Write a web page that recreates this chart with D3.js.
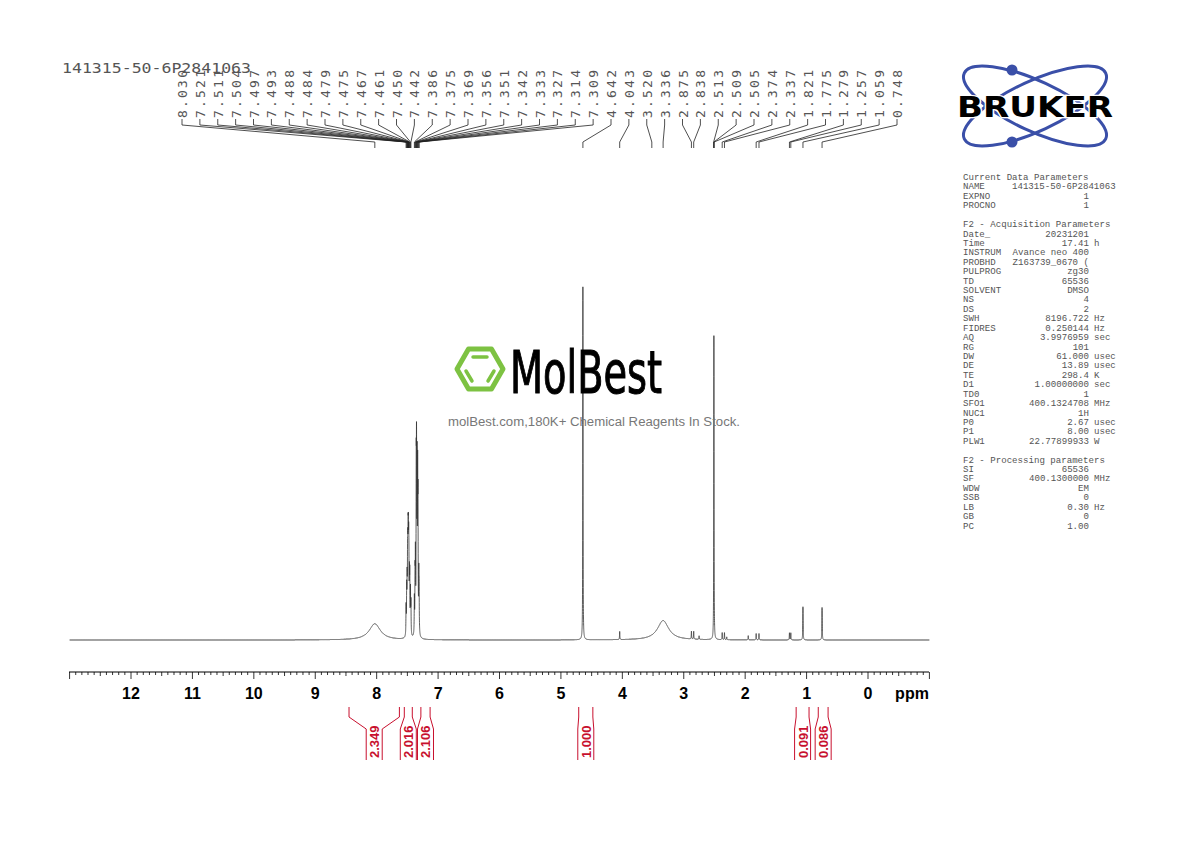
<!DOCTYPE html>
<html><head><meta charset="utf-8">
<script src="https://cdn.jsdelivr.net/npm/d3@7"></script>
<style>body{margin:0;background:#fff}</style>
</head><body>
<svg id="c" width="1190" height="842"></svg>
<script>
// peak list: ppm, relative height (4.642 = 100), half width (ppm)
const peaks = [
  [8.03, 4.6, 0.11],
  [7.521, 8, 0.003], [7.511, 12, 0.003], [7.504, 13, 0.003], [7.497, 16, 0.003],
  [7.493, 16, 0.003], [7.488, 19, 0.003], [7.484, 19, 0.003], [7.479, 18, 0.003],
  [7.475, 15, 0.003], [7.467, 14, 0.003], [7.461, 15, 0.003], [7.450, 12, 0.003],
  [7.442, 9, 0.003],
  [7.386, 10, 0.003], [7.375, 15, 0.003], [7.369, 20, 0.003], [7.356, 40, 0.003],
  [7.351, 44, 0.003], [7.342, 44, 0.003], [7.333, 40, 0.003], [7.327, 33, 0.003],
  [7.314, 15, 0.003], [7.309, 11, 0.003],
  [4.642, 100, 0.0025], [4.043, 2.3, 0.003], [3.336, 5.5, 0.11],
  [2.875, 2.2, 0.003], [2.838, 2.2, 0.003], [2.75, 1.0, 0.003],
  [2.513, 2, 0.0025], [2.509, 85, 0.0025], [2.505, 2, 0.0025],
  [2.374, 2.0, 0.003], [2.337, 2.0, 0.003], [2.30, 0.8, 0.003],
  [1.95, 1.2, 0.003], [1.821, 1.8, 0.003], [1.775, 1.8, 0.003],
  [1.279, 2.0, 0.003], [1.257, 2.0, 0.003],
  [1.059, 9.4, 0.003], [0.748, 9.2, 0.003]
];
const peakLabels = ["8.030","7.521","7.511","7.504","7.497","7.493","7.488","7.484","7.479","7.475",
  "7.467","7.461","7.450","7.442","7.386","7.375","7.369","7.356","7.351","7.342","7.333","7.327",
  "7.314","7.309","4.642","4.043","3.520","3.336","2.875","2.838","2.513","2.509","2.505","2.374",
  "2.337","1.821","1.775","1.279","1.257","1.059","0.748"];
// integrals: from ppm, to ppm, value
const integrals = [[8.45, 7.63, "2.349"], [7.55, 7.42, "2.016"], [7.28, 7.13, "2.106"],
  [4.71, 4.48, "1.000"], [1.17, 0.96, "0.091"], [0.81, 0.65, "0.086"]];
const xTicks = d3.range(0, 13);
const params = [
  ["Current Data Parameters"], ["NAME", "141315-50-6P2841063"], ["EXPNO", "1"], ["PROCNO", "1"], [],
  ["F2 - Acquisition Parameters"], ["Date_", "20231201"], ["Time", "17.41", "h"],
  ["INSTRUM", "Avance neo 400"], ["PROBHD", "Z163739_0670 ("], ["PULPROG", "zg30"], ["TD", "65536"],
  ["SOLVENT", "DMSO"], ["NS", "4"], ["DS", "2"], ["SWH", "8196.722", "Hz"], ["FIDRES", "0.250144", "Hz"],
  ["AQ", "3.9976959", "sec"], ["RG", "101"], ["DW", "61.000", "usec"], ["DE", "13.89", "usec"],
  ["TE", "298.4", "K"], ["D1", "1.00000000", "sec"], ["TD0", "1"], ["SFO1", "400.1324708", "MHz"],
  ["NUC1", "1H"], ["P0", "2.67", "usec"], ["P1", "8.00", "usec"], ["PLW1", "22.77899933", "W"], [],
  ["F2 - Processing parameters"], ["SI", "65536"], ["SF", "400.1300000", "MHz"], ["WDW", "EM"],
  ["SSB", "0"], ["LB", "0.30", "Hz"], ["GB", "0"], ["PC", "1.00"]
];

const svg = d3.select("#c");
const x = d3.scaleLinear().domain([12, 0]).range([131, 868]);
const y = d3.scaleLinear().domain([0, 100]).range([640, 287]);

// spectrum
const pts = d3.range(13.0, -1.0, -0.0005).map(p => {
  let s = 0;
  for (const [c, h, w] of peaks) { const d = p - c; s += h * w * w / (d * d + w * w); }
  return [p, s];
});
svg.append("path").datum(pts)
  .attr("fill", "none").attr("stroke", "#333").attr("stroke-width", 0.8)
  .attr("d", d3.line().x(d => x(d[0])).y(d => y(d[1])));

// axis
const ax = svg.append("g").attr("transform", "translate(0,672)");
ax.append("line").attr("x1", 69).attr("x2", 929).attr("stroke", "#000").attr("stroke-width", 1.2);
ax.selectAll(".mn").data(d3.range(-10, 131)).join("line")
  .attr("x1", d => x(d / 10)).attr("x2", d => x(d / 10))
  .attr("y1", 0).attr("y2", d => d % 10 === 0 ? 7 : (d % 5 === 0 ? 4 : 3))
  .attr("stroke", "#000").attr("stroke-width", 0.8);
ax.selectAll(".tk").data(xTicks).join("text")
  .attr("x", d => x(d)).attr("y", 27).attr("text-anchor", "middle")
  .attr("font-family", "Liberation Sans, Arial").attr("font-weight", "bold").attr("font-size", 16)
  .text(d => d);
ax.append("text").attr("x", 912).attr("y", 27).attr("text-anchor", "middle")
  .attr("font-family", "Liberation Sans, Arial").attr("font-weight", "bold").attr("font-size", 16).text("ppm");

// peak labels
const lx0 = 182, lx1 = 897;
const lstep = (lx1 - lx0) / (peakLabels.length - 1);
const pl = svg.append("g");
peakLabels.forEach((t, i) => {
  const lx = lx0 + i * lstep, px = x(+t);
  pl.append("text").attr("transform", `translate(${lx + 5},118) rotate(-90)`)
    .attr("font-family", "DejaVu Sans Mono, monospace").attr("font-size", 13).attr("fill", "#555")
    .attr("textLength", 48).attr("lengthAdjust", "spacing")
    .text(t);
  pl.append("path").attr("fill", "none").attr("stroke", "#222").attr("stroke-width", 0.8)
    .attr("d", `M${lx},119 V125 L${px},142 V148`);
});

svg.append("text").attr("x", 62).attr("y", 73)
  .attr("font-family", "DejaVu Sans Mono, monospace").attr("font-size", 13.5).attr("fill", "#555")
  .attr("textLength", 189).attr("lengthAdjust", "spacingAndGlyphs")
  .text("141315-50-6P2841063");

// integrals
const ig = svg.append("g").attr("stroke", "#c8102e").attr("fill", "none").attr("stroke-width", 1);
integrals.forEach(([a, b, v]) => {
  const xa = x(a), xb = x(b), cx = (xa + xb) / 2;
  ig.append("path").attr("d", `M${xa},707 V717 L${cx - 8},729 V760`);
  ig.append("path").attr("d", `M${xb},707 V717 L${cx + 8},729 V760`);
  svg.append("text").attr("transform", `translate(${cx + 5},758) rotate(-90)`)
    .attr("font-family", "Liberation Sans, Arial").attr("font-weight", "bold").attr("font-size", 13)
    .attr("fill", "#c8102e").text(v);
});

// MolBest watermark
const mb = svg.append("g").attr("transform", "translate(480,369)");
const hex = d3.range(6).map(k => [23 * Math.cos(k * Math.PI / 3), 23 * Math.sin(k * Math.PI / 3)]);
mb.append("polygon").attr("points", hex.map(p => p.join(",")).join(" "))
  .attr("fill", "none").attr("stroke", "#7dc242").attr("stroke-width", 5).attr("stroke-linejoin", "round");
mb.append("line").attr("x1", -7).attr("x2", 7).attr("y1", -12).attr("y2", -12).attr("stroke", "#7dc242").attr("stroke-width", 3.5).attr("stroke-linecap", "round");
mb.append("line").attr("x1", -14).attr("x2", -8).attr("y1", 2).attr("y2", 12).attr("stroke", "#7dc242").attr("stroke-width", 3.5).attr("stroke-linecap", "round");
mb.append("line").attr("x1", 14).attr("x2", 8).attr("y1", 2).attr("y2", 12).attr("stroke", "#7dc242").attr("stroke-width", 3.5).attr("stroke-linecap", "round");
svg.append("text").attr("x", 510).attr("y", 393)
  .attr("font-family", "DejaVu Sans Condensed, sans-serif").attr("font-size", 58)
  .attr("stroke", "#000").attr("stroke-width", 1)
  .attr("textLength", 152).attr("lengthAdjust", "spacingAndGlyphs").text("MolBest");
svg.append("text").attr("x", 594).attr("y", 426).attr("text-anchor", "middle")
  .attr("font-family", "Liberation Sans, Arial").attr("font-size", 12.5).attr("fill", "#777")
  .attr("textLength", 292).attr("lengthAdjust", "spacingAndGlyphs")
  .text("molBest.com,180K+ Chemical Reagents In Stock.");

// Bruker logo
const bk = svg.append("g").attr("transform", "translate(1035,106)");
[-25, 25].forEach(r => bk.append("ellipse").attr("rx", 78).attr("ry", 25)
  .attr("transform", `rotate(${r})`).attr("fill", "none").attr("stroke", "#3a4fa8").attr("stroke-width", 3));
bk.append("circle").attr("cx", -23).attr("cy", -36).attr("r", 5.5).attr("fill", "#3a4fa8");
bk.append("circle").attr("cx", -23).attr("cy", 36).attr("r", 5.5).attr("fill", "#3a4fa8");
bk.append("text").attr("x", 0).attr("y", 11).attr("text-anchor", "middle")
  .attr("font-family", "DejaVu Sans, sans-serif").attr("font-weight", "bold").attr("font-size", 28)
  .attr("textLength", 156).attr("lengthAdjust", "spacingAndGlyphs")
  .attr("stroke", "#fff").attr("stroke-width", 2.5).attr("paint-order", "stroke").text("BRUKER");

// parameter panel
const pp = svg.append("g").attr("font-family", "Liberation Mono, DejaVu Sans Mono, monospace")
  .attr("font-size", 9.1).attr("fill", "#555");
params.forEach((r, i) => {
  const yy = 180 + i * 9.42;
  if (!r.length) return;
  pp.append("text").attr("x", 963).attr("y", yy).text(r[0]);
  if (r[1] !== undefined) {
    const t = pp.append("text").attr("y", yy).text(r[1]);
    if (r[1].length > 16) t.attr("x", 1012); else t.attr("x", 1089).attr("text-anchor", "end");
  }
  if (r[2] !== undefined) pp.append("text").attr("x", 1094).attr("y", yy).text(r[2]);
});
</script>
</body></html>
